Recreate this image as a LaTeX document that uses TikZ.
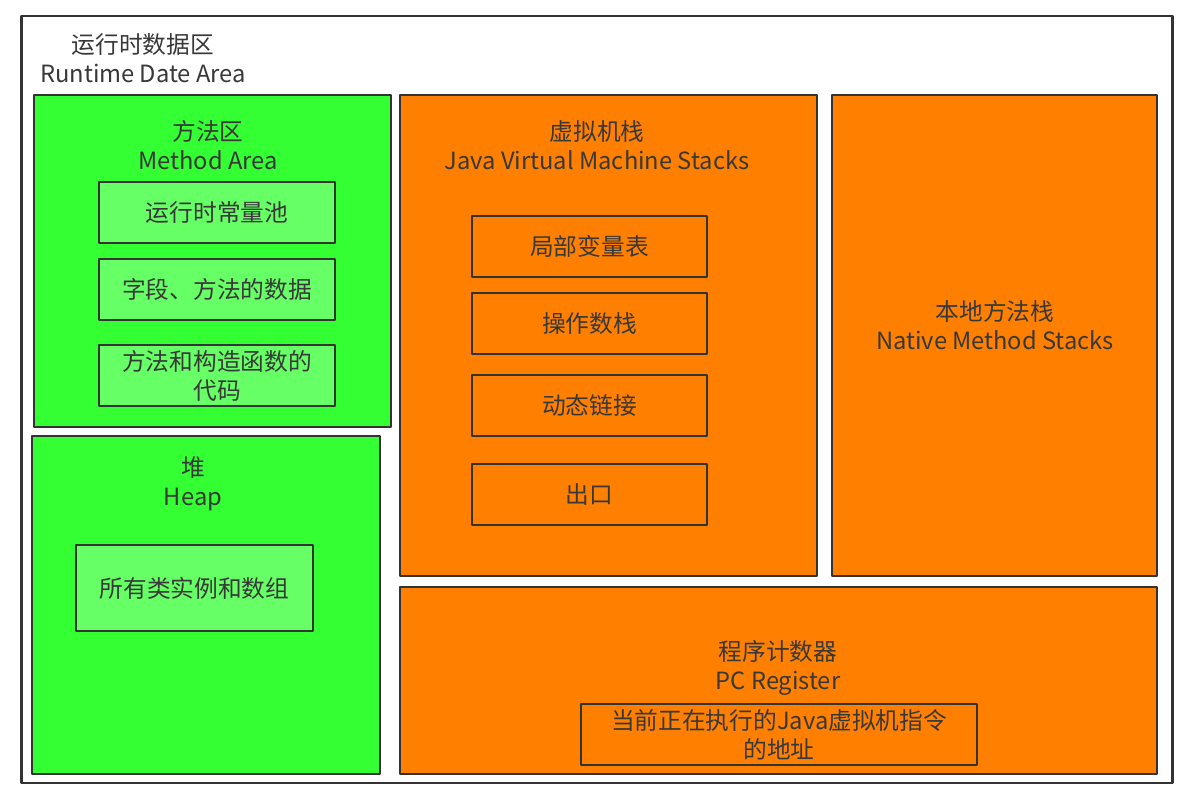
\documentclass[tikz,border=0pt]{standalone}
\usepackage{fontspec}
\setmainfont{Noto Sans CJK SC}
\definecolor{areagreen}{HTML}{33FF33}
\definecolor{itemgreen}{HTML}{66FF66}
\definecolor{areaorange}{HTML}{FF8000}
\definecolor{edge}{HTML}{333333}
\begin{document}
\begin{tikzpicture}[x=0.02cm,y=-0.02cm,line join=round]
			\tikzset{every node/.style={font=\fontsize{13.5}{16.5}\selectfont,text=black!78,align=center,inner sep=0pt},
				area/.style={draw=edge,line width=1.6pt},
				greenarea/.style={area,fill=areagreen},
				orangearea/.style={area,fill=areaorange},
				greenitem/.style={area,fill=itemgreen,minimum height=1.22cm},
				orangeitem/.style={area,fill=areaorange,minimum height=1.22cm}}
			\useasboundingbox (0,0) rectangle (1200,798);
			% outer frame
			\node[draw=edge,line width=1.6pt,fill=white,minimum width=23.04cm,minimum height=15.34cm] (runtime) at (597,399.5) {};
			\node (runtimetitle) at (143,58) {运行时数据区\\Runtime Date Area};
			% method area
			\node[greenarea,minimum width=7.14cm,minimum height=6.64cm] (method) at (212.5,261) {};
			\node (methodtitle) at (208,145.5) {方法区\\Method Area};
			\node[greenitem,minimum width=4.72cm] (pool) at (217,212.5) {运行时常量池};
			\node[greenitem,minimum width=4.72cm] (fields) at (217,289.5) {字段、方法的数据};
			\node[greenitem,minimum width=4.72cm] (code) at (217,375.5) {方法和构造函数的\\代码};
			% heap
			\node[greenarea,minimum width=6.96cm,minimum height=6.76cm] (heap) at (206,605) {};
			\node (heaptitle) at (193,483.5) {堆\\Heap};
			\node[greenitem,minimum width=4.74cm,minimum height=1.72cm] (objects) at (194.5,588) {所有类实例和数组};
			% jvm stacks
			\node[orangearea,minimum width=8.34cm,minimum height=9.62cm] (jvmstack) at (608.5,335.5) {};
			\node (jvmtitle) at (597,145.5) {虚拟机栈\\Java Virtual Machine Stacks};
			\node[orangeitem,minimum width=4.7cm] (locals) at (589.5,246.5) {局部变量表};
			\node[orangeitem,minimum width=4.7cm] (operands) at (589.5,323.5) {操作数栈};
			\node[orangeitem,minimum width=4.7cm] (linking) at (589.5,405.5) {动态链接};
			\node[orangeitem,minimum width=4.7cm] (exit) at (589.5,494.5) {出口};
			% native stacks
			\node[orangearea,minimum width=6.5cm,minimum height=9.62cm] (native) at (994.5,335.5) {};
			\node (nativetitle) at (995,325.5) {本地方法栈\\Native Method Stacks};
			% pc register
			\node[orangearea,minimum width=15.14cm,minimum height=3.74cm] (pc) at (778.5,680.5) {};
			\node (pctitle) at (778,667.5) {程序计数器\\PC Register};
			\node[orangeitem,minimum width=7.92cm] (address) at (779,734.5) {当前正在执行的Java虚拟机指令\\的地址};
		\end{tikzpicture}
\end{document}
